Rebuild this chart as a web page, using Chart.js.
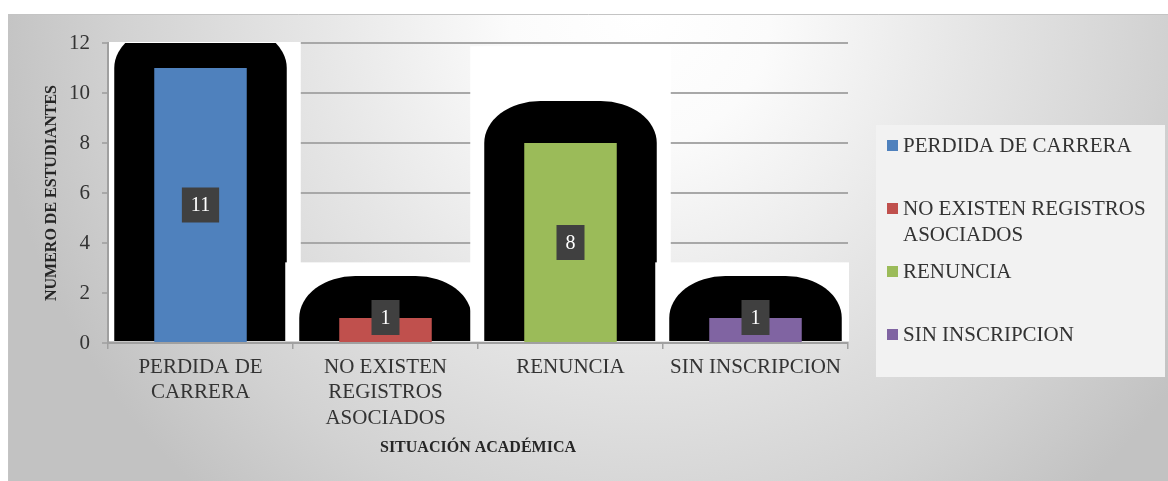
<!DOCTYPE html>
<html>
<head>
<meta charset="utf-8">
<script src="https://cdn.jsdelivr.net/npm/chart.js@4.4.1/dist/chart.umd.min.js"></script>
<style>
  html, body { margin: 0; padding: 0; background: #fff; }
  canvas { display: block; }
</style>
</head>
<body>
<canvas id="chart" width="1168" height="481"></canvas>
<script>
const categories = ['PERDIDA DE CARRERA', 'NO EXISTEN REGISTROS ASOCIADOS', 'RENUNCIA', 'SIN INSCRIPCION'];
const students = [11, 1, 8, 1];
const barColors = ['#4f81bd', '#c0504d', '#9bbb59', '#8064a2'];
const yTicks = [0, 2, 4, 6, 8, 10, 12];
const xTitle = 'SITUACIÓN ACADÉMICA';
const yTitle = 'NUMERO DE ESTUDIANTES';

const SERIF = "'Liberation Serif', 'Times New Roman', serif";
const TEXT = '#333333';
const AXIS = '#a0a0a0';

// simple word wrap, used for x labels and legend
const measureCtx = document.createElement('canvas').getContext('2d');
function wrapLines(text, font, maxWidth) {
    measureCtx.font = font;
    const lines = [];
    let line = '';
    text.split(' ').forEach(w => {
        const test = line ? line + ' ' + w : w;
        if (line && measureCtx.measureText(test).width > maxWidth) {
            lines.push(line);
            line = w;
        } else {
            line = test;
        }
    });
    lines.push(line);
    return lines;
}

const canvas = document.getElementById('chart');
const ctx = canvas.getContext('2d');

new Chart(ctx, {
    type: 'bar',
    data: {
        labels: categories,
        datasets: [{
            data: students,
            backgroundColor: barColors,
            borderWidth: 0,
            categoryPercentage: 1,
            barPercentage: 0.5
        }]
    },
    options: {
        responsive: false,
        animation: false,
        events: [],
        layout: {
            padding: { left: 0, top: 43, right: 320, bottom: 0 }
        },
        scales: {
            x: {
                afterFit: (scale) => { scale.height = 138; },
                grid: {
                    drawOnChartArea: false,
                    drawTicks: true,
                    tickLength: 6,
                    color: AXIS,
                    lineWidth: 1.5
                },
                border: { color: AXIS, width: 2 },
                ticks: {
                    color: TEXT,
                    font: { family: SERIF, size: 21, lineHeight: 1.2 },
                    padding: 6,
                    maxRotation: 0,
                    autoSkip: false,
                    callback: function (value, index) {
                        const lines = wrapLines(categories[index], '21px ' + SERIF, 180);
                        return lines.length > 1 ? lines : lines[0];
                    }
                },
                title: {
                    display: true,
                    text: xTitle,
                    color: '#262626',
                    font: { family: SERIF, size: 16, weight: 'bold', lineHeight: 1.2 },
                    padding: { top: 0, bottom: 24 }
                }
            },
            y: {
                min: 0,
                max: 12,
                afterFit: (scale) => { scale.width = 108; },
                afterBuildTicks: (scale) => { scale.ticks = yTicks.map(v => ({ value: v })); },
                grid: {
                    color: '#a8a8a8',
                    lineWidth: 2,
                    drawTicks: true,
                    tickLength: 6
                },
                border: { color: AXIS, width: 2 },
                ticks: {
                    color: TEXT,
                    font: { family: SERIF, size: 21 },
                    padding: 12
                },
                title: {
                    display: true,
                    text: yTitle,
                    color: '#262626',
                    font: { family: SERIF, size: 16, weight: 'bold', lineHeight: 1.2 },
                    padding: { top: 42, bottom: 0 }
                }
            }
        },
        plugins: {
            legend: { display: false },
            tooltip: { enabled: false }
        }
    },
    plugins: [{
        id: 'background',
        beforeDraw: (chart) => {
            const c = chart.ctx;
            c.save();
            c.fillStyle = '#fff';
            c.fillRect(0, 0, chart.width, chart.height);
            const g = c.createRadialGradient(640, 14, 0, 640, 14, 650);
            g.addColorStop(0, '#ffffff');
            g.addColorStop(0.2, '#fbfbfb');
            g.addColorStop(0.5, '#e6e6e6');
            g.addColorStop(0.8, '#d2d2d2');
            g.addColorStop(1, '#c2c2c2');
            c.fillStyle = g;
            c.fillRect(8, 14, chart.width - 8, chart.height - 14);
            c.strokeStyle = '#c4c4c4';
            c.lineWidth = 1;
            c.beginPath();
            c.moveTo(8.5, chart.height);
            c.lineTo(8.5, 14.5);
            c.lineTo(chart.width, 14.5);
            c.stroke();
            c.restore();
        }
    }, {
        // the black "glow" blobs sitting on white patches behind each bar
        id: 'barGlow',
        beforeDatasetsDraw: (chart) => {
            const c = chart.ctx;
            const area = chart.chartArea;
            const meta = chart.getDatasetMeta(0);
            c.save();
            meta.data.forEach(bar => {
                const { x, y, base, width } = bar.getProps(['x', 'y', 'base', 'width'], true);
                const left = x - width / 2;
                const right = x + width / 2;
                const h = base - y;

                const wTop = Math.max(area.top - 1, y - 50 - 0.235 * h);
                const wLeft = Math.max(area.left + 1, left - 54);
                const wRight = Math.min(area.right + 1, right + 54);
                c.fillStyle = '#fff';
                c.fillRect(wLeft, wTop, wRight - wLeft, base - 1 - wTop);

                c.save();
                c.beginPath();
                c.rect(area.left, area.top, area.width, area.height);
                c.clip();
                const bl = left - 40, br = right + 40, bt = y - 42, bb = base - 1;
                const rx = 56, ry = 42;
                c.beginPath();
                c.moveTo(bl, bb);
                c.lineTo(bl, bt + ry);
                c.ellipse(bl + rx, bt + ry, rx, ry, 0, Math.PI, 1.5 * Math.PI);
                c.lineTo(br - rx, bt);
                c.ellipse(br - rx, bt + ry, rx, ry, 0, 1.5 * Math.PI, 2 * Math.PI);
                c.lineTo(br, bb);
                c.closePath();
                c.fillStyle = '#000';
                c.fill();
                c.restore();
            });
            c.restore();
        }
    }, {
        id: 'valueLabels',
        afterDatasetsDraw: (chart) => {
            const c = chart.ctx;
            const meta = chart.getDatasetMeta(0);
            c.save();
            c.font = '20px ' + SERIF;
            c.textAlign = 'center';
            c.textBaseline = 'middle';
            meta.data.forEach((bar, i) => {
                const text = String(students[i]);
                const w = c.measureText(text).width + 18;
                const h = 35;
                let cy = (bar.y + bar.base) / 2;
                cy = Math.min(cy, bar.base - 7 - h / 2);
                c.fillStyle = '#404040';
                c.fillRect(bar.x - w / 2, cy - h / 2, w, h);
                c.fillStyle = '#fff';
                c.fillText(text, bar.x, cy + 1);
            });
            c.restore();
        }
    }, {
        id: 'sideLegend',
        afterDraw: (chart) => {
            const c = chart.ctx;
            const box = { x: 876, y: 125, w: 289, h: 252 };
            const font = '21px ' + SERIF;
            c.save();
            c.fillStyle = '#f2f2f2';
            c.fillRect(box.x, box.y, box.w, box.h);
            const slot = box.h / categories.length;
            c.font = font;
            c.textAlign = 'left';
            c.textBaseline = 'middle';
            categories.forEach((cat, i) => {
                const cy = box.y + i * slot + 20.5;
                c.fillStyle = barColors[i];
                c.fillRect(887, cy - 5.5, 11, 11);
                c.fillStyle = TEXT;
                wrapLines(cat, font, box.x + box.w - 903 - 4).forEach((line, j) => {
                    c.fillText(line, 903, cy + 1 + j * 25.5);
                });
            });
            c.restore();
        }
    }]
});
</script>
</body>
</html>
